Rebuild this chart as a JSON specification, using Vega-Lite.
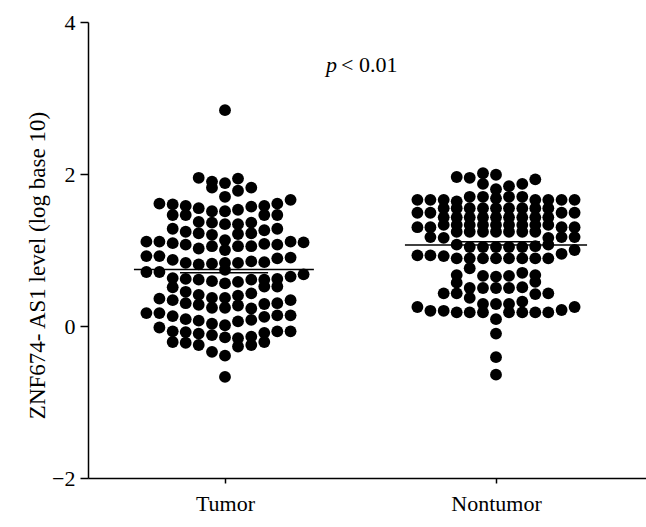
{
  "$schema": "https://vega.github.io/schema/vega-lite/v6.json",
  "width": 558,
  "height": 456,
  "autosize": {"type": "none"},
  "padding": {"left": 88, "top": 22, "right": 0, "bottom": 49},
  "background": "white",
  "config": {"view": {"stroke": null}},
  "datasets": {
    "points": [
      {"group":"Tumor","x":0.710,"v":1.11},{"group":"Tumor","x":0.710,"v":0.92},{"group":"Tumor","x":0.710,"v":0.71},{"group":"Tumor","x":0.710,"v":0.17},
      {"group":"Tumor","x":0.758,"v":1.61},{"group":"Tumor","x":0.758,"v":1.11},{"group":"Tumor","x":0.758,"v":0.92},{"group":"Tumor","x":0.758,"v":0.71},{"group":"Tumor","x":0.758,"v":0.36},{"group":"Tumor","x":0.758,"v":0.17},{"group":"Tumor","x":0.758,"v":-0.02},
      {"group":"Tumor","x":0.807,"v":1.60},{"group":"Tumor","x":0.807,"v":1.46},{"group":"Tumor","x":0.807,"v":1.28},{"group":"Tumor","x":0.807,"v":1.09},{"group":"Tumor","x":0.807,"v":0.87},{"group":"Tumor","x":0.807,"v":0.63},{"group":"Tumor","x":0.807,"v":0.51},{"group":"Tumor","x":0.807,"v":0.34},{"group":"Tumor","x":0.807,"v":0.13},{"group":"Tumor","x":0.807,"v":-0.07},{"group":"Tumor","x":0.807,"v":-0.21},
      {"group":"Tumor","x":0.855,"v":1.58},{"group":"Tumor","x":0.855,"v":1.46},{"group":"Tumor","x":0.855,"v":1.24},{"group":"Tumor","x":0.855,"v":1.07},{"group":"Tumor","x":0.855,"v":0.83},{"group":"Tumor","x":0.855,"v":0.62},{"group":"Tumor","x":0.855,"v":0.45},{"group":"Tumor","x":0.855,"v":0.30},{"group":"Tumor","x":0.855,"v":0.09},{"group":"Tumor","x":0.855,"v":-0.08},{"group":"Tumor","x":0.855,"v":-0.22},
      {"group":"Tumor","x":0.903,"v":1.95},{"group":"Tumor","x":0.903,"v":1.55},{"group":"Tumor","x":0.903,"v":1.37},{"group":"Tumor","x":0.903,"v":1.22},{"group":"Tumor","x":0.903,"v":1.02},{"group":"Tumor","x":0.903,"v":0.81},{"group":"Tumor","x":0.903,"v":0.61},{"group":"Tumor","x":0.903,"v":0.41},{"group":"Tumor","x":0.903,"v":0.28},{"group":"Tumor","x":0.903,"v":0.07},{"group":"Tumor","x":0.903,"v":-0.10},{"group":"Tumor","x":0.903,"v":-0.25},
      {"group":"Tumor","x":0.952,"v":1.90},{"group":"Tumor","x":0.952,"v":1.82},{"group":"Tumor","x":0.952,"v":1.51},{"group":"Tumor","x":0.952,"v":1.36},{"group":"Tumor","x":0.952,"v":1.20},{"group":"Tumor","x":0.952,"v":1.05},{"group":"Tumor","x":0.952,"v":0.82},{"group":"Tumor","x":0.952,"v":0.59},{"group":"Tumor","x":0.952,"v":0.37},{"group":"Tumor","x":0.952,"v":0.24},{"group":"Tumor","x":0.952,"v":0.03},{"group":"Tumor","x":0.952,"v":-0.12},{"group":"Tumor","x":0.952,"v":-0.34},
      {"group":"Tumor","x":1.000,"v":2.84},{"group":"Tumor","x":1.000,"v":1.88},{"group":"Tumor","x":1.000,"v":1.70},{"group":"Tumor","x":1.000,"v":1.51},{"group":"Tumor","x":1.000,"v":1.34},{"group":"Tumor","x":1.000,"v":1.13},{"group":"Tumor","x":1.000,"v":1.00},{"group":"Tumor","x":1.000,"v":0.83},{"group":"Tumor","x":1.000,"v":0.74},{"group":"Tumor","x":1.000,"v":0.56},{"group":"Tumor","x":1.000,"v":0.37},{"group":"Tumor","x":1.000,"v":0.24},{"group":"Tumor","x":1.000,"v":0.01},{"group":"Tumor","x":1.000,"v":-0.15},{"group":"Tumor","x":1.000,"v":-0.39},{"group":"Tumor","x":1.000,"v":-0.67},
      {"group":"Tumor","x":1.048,"v":1.94},{"group":"Tumor","x":1.048,"v":1.78},{"group":"Tumor","x":1.048,"v":1.53},{"group":"Tumor","x":1.048,"v":1.34},{"group":"Tumor","x":1.048,"v":1.21},{"group":"Tumor","x":1.048,"v":1.05},{"group":"Tumor","x":1.048,"v":0.83},{"group":"Tumor","x":1.048,"v":0.58},{"group":"Tumor","x":1.048,"v":0.40},{"group":"Tumor","x":1.048,"v":0.27},{"group":"Tumor","x":1.048,"v":0.06},{"group":"Tumor","x":1.048,"v":-0.16},{"group":"Tumor","x":1.048,"v":-0.27},
      {"group":"Tumor","x":1.097,"v":1.82},{"group":"Tumor","x":1.097,"v":1.57},{"group":"Tumor","x":1.097,"v":1.36},{"group":"Tumor","x":1.097,"v":1.22},{"group":"Tumor","x":1.097,"v":1.05},{"group":"Tumor","x":1.097,"v":0.85},{"group":"Tumor","x":1.097,"v":0.61},{"group":"Tumor","x":1.097,"v":0.43},{"group":"Tumor","x":1.097,"v":0.23},{"group":"Tumor","x":1.097,"v":0.08},{"group":"Tumor","x":1.097,"v":-0.14},{"group":"Tumor","x":1.097,"v":-0.25},
      {"group":"Tumor","x":1.145,"v":1.58},{"group":"Tumor","x":1.145,"v":1.46},{"group":"Tumor","x":1.145,"v":1.26},{"group":"Tumor","x":1.145,"v":1.08},{"group":"Tumor","x":1.145,"v":0.84},{"group":"Tumor","x":1.145,"v":0.61},{"group":"Tumor","x":1.145,"v":0.52},{"group":"Tumor","x":1.145,"v":0.29},{"group":"Tumor","x":1.145,"v":0.12},{"group":"Tumor","x":1.145,"v":-0.09},{"group":"Tumor","x":1.145,"v":-0.21},
      {"group":"Tumor","x":1.193,"v":1.61},{"group":"Tumor","x":1.193,"v":1.46},{"group":"Tumor","x":1.193,"v":1.28},{"group":"Tumor","x":1.193,"v":1.07},{"group":"Tumor","x":1.193,"v":0.89},{"group":"Tumor","x":1.193,"v":0.62},{"group":"Tumor","x":1.193,"v":0.52},{"group":"Tumor","x":1.193,"v":0.30},{"group":"Tumor","x":1.193,"v":0.14},{"group":"Tumor","x":1.193,"v":-0.07},
      {"group":"Tumor","x":1.242,"v":1.66},{"group":"Tumor","x":1.242,"v":1.11},{"group":"Tumor","x":1.242,"v":0.90},{"group":"Tumor","x":1.242,"v":0.65},{"group":"Tumor","x":1.242,"v":0.34},{"group":"Tumor","x":1.242,"v":0.14},{"group":"Tumor","x":1.242,"v":-0.07},
      {"group":"Tumor","x":1.290,"v":1.10},{"group":"Tumor","x":1.290,"v":0.68},
      {"group":"Nontumor","x":1.710,"v":1.66},{"group":"Nontumor","x":1.710,"v":1.49},{"group":"Nontumor","x":1.710,"v":1.30},{"group":"Nontumor","x":1.710,"v":0.93},{"group":"Nontumor","x":1.710,"v":0.25},
      {"group":"Nontumor","x":1.758,"v":1.66},{"group":"Nontumor","x":1.758,"v":1.49},{"group":"Nontumor","x":1.758,"v":1.30},{"group":"Nontumor","x":1.758,"v":1.17},{"group":"Nontumor","x":1.758,"v":0.93},{"group":"Nontumor","x":1.758,"v":0.20},
      {"group":"Nontumor","x":1.807,"v":1.66},{"group":"Nontumor","x":1.807,"v":1.55},{"group":"Nontumor","x":1.807,"v":1.43},{"group":"Nontumor","x":1.807,"v":1.33},{"group":"Nontumor","x":1.807,"v":1.16},{"group":"Nontumor","x":1.807,"v":0.92},{"group":"Nontumor","x":1.807,"v":0.43},{"group":"Nontumor","x":1.807,"v":0.20},
      {"group":"Nontumor","x":1.855,"v":1.96},{"group":"Nontumor","x":1.855,"v":1.64},{"group":"Nontumor","x":1.855,"v":1.55},{"group":"Nontumor","x":1.855,"v":1.43},{"group":"Nontumor","x":1.855,"v":1.33},{"group":"Nontumor","x":1.855,"v":1.24},{"group":"Nontumor","x":1.855,"v":1.07},{"group":"Nontumor","x":1.855,"v":0.89},{"group":"Nontumor","x":1.855,"v":0.67},{"group":"Nontumor","x":1.855,"v":0.57},{"group":"Nontumor","x":1.855,"v":0.43},{"group":"Nontumor","x":1.855,"v":0.18},
      {"group":"Nontumor","x":1.903,"v":1.95},{"group":"Nontumor","x":1.903,"v":1.70},{"group":"Nontumor","x":1.903,"v":1.55},{"group":"Nontumor","x":1.903,"v":1.43},{"group":"Nontumor","x":1.903,"v":1.33},{"group":"Nontumor","x":1.903,"v":1.24},{"group":"Nontumor","x":1.903,"v":1.04},{"group":"Nontumor","x":1.903,"v":0.89},{"group":"Nontumor","x":1.903,"v":0.76},{"group":"Nontumor","x":1.903,"v":0.50},{"group":"Nontumor","x":1.903,"v":0.37},{"group":"Nontumor","x":1.903,"v":0.18},
      {"group":"Nontumor","x":1.952,"v":2.01},{"group":"Nontumor","x":1.952,"v":1.87},{"group":"Nontumor","x":1.952,"v":1.70},{"group":"Nontumor","x":1.952,"v":1.55},{"group":"Nontumor","x":1.952,"v":1.43},{"group":"Nontumor","x":1.952,"v":1.33},{"group":"Nontumor","x":1.952,"v":1.24},{"group":"Nontumor","x":1.952,"v":1.04},{"group":"Nontumor","x":1.952,"v":0.89},{"group":"Nontumor","x":1.952,"v":0.66},{"group":"Nontumor","x":1.952,"v":0.50},{"group":"Nontumor","x":1.952,"v":0.29},{"group":"Nontumor","x":1.952,"v":0.18},
      {"group":"Nontumor","x":2.000,"v":1.99},{"group":"Nontumor","x":2.000,"v":1.80},{"group":"Nontumor","x":2.000,"v":1.68},{"group":"Nontumor","x":2.000,"v":1.55},{"group":"Nontumor","x":2.000,"v":1.43},{"group":"Nontumor","x":2.000,"v":1.33},{"group":"Nontumor","x":2.000,"v":1.24},{"group":"Nontumor","x":2.000,"v":1.04},{"group":"Nontumor","x":2.000,"v":0.89},{"group":"Nontumor","x":2.000,"v":0.65},{"group":"Nontumor","x":2.000,"v":0.50},{"group":"Nontumor","x":2.000,"v":0.29},{"group":"Nontumor","x":2.000,"v":0.09},{"group":"Nontumor","x":2.000,"v":-0.10},{"group":"Nontumor","x":2.000,"v":-0.41},{"group":"Nontumor","x":2.000,"v":-0.64},
      {"group":"Nontumor","x":2.048,"v":1.84},{"group":"Nontumor","x":2.048,"v":1.70},{"group":"Nontumor","x":2.048,"v":1.55},{"group":"Nontumor","x":2.048,"v":1.43},{"group":"Nontumor","x":2.048,"v":1.33},{"group":"Nontumor","x":2.048,"v":1.24},{"group":"Nontumor","x":2.048,"v":1.04},{"group":"Nontumor","x":2.048,"v":0.89},{"group":"Nontumor","x":2.048,"v":0.66},{"group":"Nontumor","x":2.048,"v":0.50},{"group":"Nontumor","x":2.048,"v":0.29},{"group":"Nontumor","x":2.048,"v":0.18},
      {"group":"Nontumor","x":2.097,"v":1.87},{"group":"Nontumor","x":2.097,"v":1.70},{"group":"Nontumor","x":2.097,"v":1.55},{"group":"Nontumor","x":2.097,"v":1.43},{"group":"Nontumor","x":2.097,"v":1.33},{"group":"Nontumor","x":2.097,"v":1.24},{"group":"Nontumor","x":2.097,"v":1.04},{"group":"Nontumor","x":2.097,"v":0.89},{"group":"Nontumor","x":2.097,"v":0.70},{"group":"Nontumor","x":2.097,"v":0.51},{"group":"Nontumor","x":2.097,"v":0.32},{"group":"Nontumor","x":2.097,"v":0.18},
      {"group":"Nontumor","x":2.145,"v":1.93},{"group":"Nontumor","x":2.145,"v":1.66},{"group":"Nontumor","x":2.145,"v":1.55},{"group":"Nontumor","x":2.145,"v":1.43},{"group":"Nontumor","x":2.145,"v":1.33},{"group":"Nontumor","x":2.145,"v":1.24},{"group":"Nontumor","x":2.145,"v":1.05},{"group":"Nontumor","x":2.145,"v":0.89},{"group":"Nontumor","x":2.145,"v":0.67},{"group":"Nontumor","x":2.145,"v":0.58},{"group":"Nontumor","x":2.145,"v":0.42},{"group":"Nontumor","x":2.145,"v":0.18},
      {"group":"Nontumor","x":2.193,"v":1.66},{"group":"Nontumor","x":2.193,"v":1.55},{"group":"Nontumor","x":2.193,"v":1.43},{"group":"Nontumor","x":2.193,"v":1.33},{"group":"Nontumor","x":2.193,"v":1.16},{"group":"Nontumor","x":2.193,"v":1.07},{"group":"Nontumor","x":2.193,"v":0.89},{"group":"Nontumor","x":2.193,"v":0.43},{"group":"Nontumor","x":2.193,"v":0.18},
      {"group":"Nontumor","x":2.242,"v":1.66},{"group":"Nontumor","x":2.242,"v":1.49},{"group":"Nontumor","x":2.242,"v":1.30},{"group":"Nontumor","x":2.242,"v":1.17},{"group":"Nontumor","x":2.242,"v":0.95},{"group":"Nontumor","x":2.242,"v":0.21},
      {"group":"Nontumor","x":2.290,"v":1.66},{"group":"Nontumor","x":2.290,"v":1.49},{"group":"Nontumor","x":2.290,"v":1.30},{"group":"Nontumor","x":2.290,"v":1.17},{"group":"Nontumor","x":2.290,"v":1.00},{"group":"Nontumor","x":2.290,"v":0.25}
    ],
    "lines": [
      {"group":"Tumor","x1":0.664,"x2":1.328,"y":0.745},
      {"group":"Tumor","x1":0.834,"x2":1.159,"y":0.70},
      {"group":"Nontumor","x1":1.664,"x2":2.336,"y":1.066},
      {"group":"Nontumor","x1":1.841,"x2":2.162,"y":1.11}
    ]
  },
  "layer": [
    {
      "mark": {"type": "rule", "strokeDash": [1.5, 5], "stroke": "#333333", "strokeWidth": 1.5},
      "encoding": {"y": {"datum": 0, "type": "quantitative", "scale": {"domain": [-2, 4], "nice": false}}}
    },
    {
      "data": {"name": "points"},
      "mark": {"type": "circle", "size": 140, "color": "black", "opacity": 1},
      "encoding": {
        "x": {"field": "x", "type": "quantitative",
              "scale": {"domain": [0.4945, 2.5535], "nice": false, "zero": false},
              "axis": {"values": [1, 2], "labelExpr": "datum.value == 1 ? 'Tumor' : 'Nontumor'",
                       "title": null, "grid": false, "domainColor": "black", "domainWidth": 1.5,
                       "tickColor": "black", "tickWidth": 1.5, "tickSize": 5,
                       "labelFont": "Liberation Serif", "labelFontSize": 22, "labelColor": "black",
                       "labelPadding": 10}},
        "y": {"field": "v", "type": "quantitative",
              "scale": {"domain": [-2, 4], "nice": false},
              "axis": {"values": [-2, 0, 2, 4], "format": "d", "grid": false, "domainColor": "black", "domainWidth": 1.5,
                       "tickColor": "black", "tickWidth": 1.5, "tickSize": 8,
                       "labelFont": "Liberation Serif", "labelFontSize": 22, "labelColor": "black",
                       "labelPadding": 5,
                       "title": "ZNF674- AS1 level (log base 10)",
                       "titleFont": "Liberation Serif", "titleFontSize": 23, "titleFontWeight": "normal",
                       "titleColor": "black", "titleX": -51, "titleY": 243, "titleBaseline": "middle", "titleAlign": "center"}}
      }
    },
    {
      "data": {"name": "lines"},
      "mark": {"type": "rule", "color": "black", "strokeWidth": 1.5},
      "encoding": {
        "x": {"field": "x1", "type": "quantitative"},
        "x2": {"field": "x2"},
        "y": {"field": "y", "type": "quantitative"}
      }
    },
    {
      "data": {"values": [{"t": "p", "x": 1.413, "y": 3.44}]},
      "mark": {"type": "text", "font": "Liberation Serif", "fontStyle": "italic", "fontSize": 22, "align": "right", "baseline": "middle", "color": "black"},
      "encoding": {"x": {"field": "x", "type": "quantitative"}, "y": {"field": "y", "type": "quantitative"}, "text": {"field": "t"}}
    },
    {
      "data": {"values": [{"t": "< 0.01", "x": 1.428, "y": 3.44}]},
      "mark": {"type": "text", "font": "Liberation Serif", "fontSize": 22, "align": "left", "baseline": "middle", "color": "black"},
      "encoding": {"x": {"field": "x", "type": "quantitative"}, "y": {"field": "y", "type": "quantitative"}, "text": {"field": "t"}}
    }
  ]
}
